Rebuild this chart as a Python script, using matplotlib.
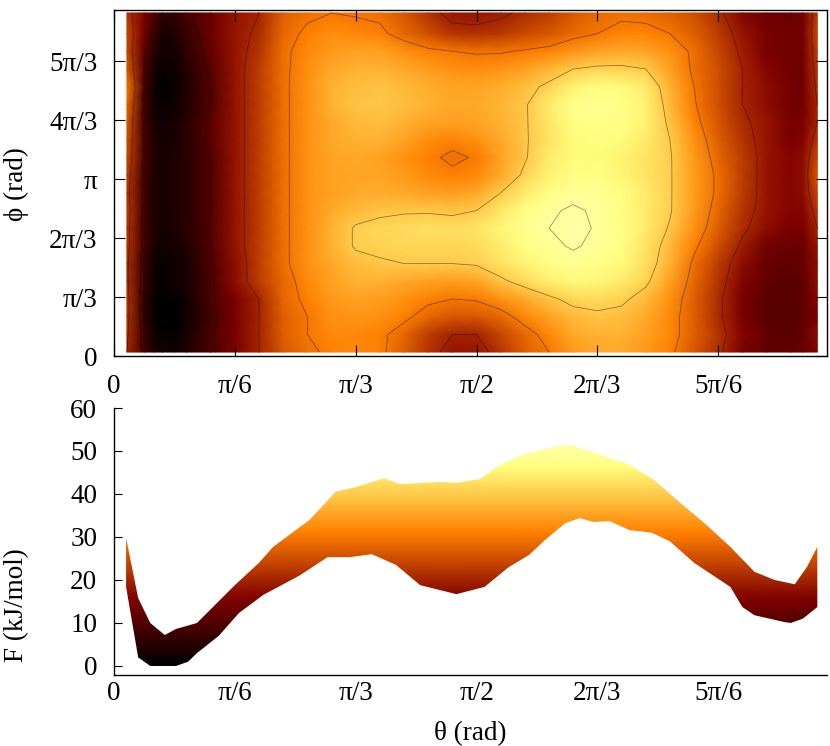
import matplotlib
matplotlib.use('Agg')
import matplotlib.pyplot as plt
import numpy as np

plt.rcParams['font.family'] = ['Liberation Serif', 'DejaVu Serif']
plt.rcParams['font.size'] = 19.5
plt.rcParams['axes.linewidth'] = 1.0

# top map, degrees
theta = [3.2, 7.5, 10, 12, 15, 18, 24, 30, 36, 42, 48, 54, 60, 66, 72, 78, 84, 90, 96, 102, 108,
         114, 120, 126, 132, 138, 144, 150, 156, 162, 168, 171, 174.6]
phi = [4, 22, 40, 58, 76, 94, 112, 130, 148, 166, 184, 202, 220, 238, 256, 274, 292, 310, 328, 349]
free_energy = [
    [20, 8, 4, 2, 2, 4, 9, 15, 20, 26, 29, 31, 32, 31, 27, 22, 18, 18, 22, 27, 30, 34, 36, 36, 34, 31, 26, 21, 15, 12, 12, 13, 16],
    [21, 7, 2, 1, 1, 3, 9, 15, 20, 27, 30, 32, 32, 31, 28, 23, 20, 20, 24, 28, 32, 36, 37, 37, 35, 32, 27, 22, 16, 12, 11, 12, 17],
    [22, 6, 1, 0, 0, 2, 8, 15, 20, 27, 30, 33, 33.5, 33, 31, 28, 26, 26, 28, 32, 35, 38, 39, 38.5, 36, 32, 27, 21, 15, 11, 10.5, 12, 15],
    [22, 6, 1, 0.5, 1, 2, 9, 15, 20, 28, 31, 34, 35, 34.5, 33, 31, 30, 30.5, 33, 36, 39, 41.5, 42, 41, 38, 33, 27, 21, 15, 11, 10.5, 12, 16],
    [21, 7, 2, 1, 2, 3, 9, 17, 23, 28, 32, 35, 37, 37, 36, 35, 34.5, 35.5, 39, 42, 44.5, 46, 45.5, 44, 41, 35, 28, 22, 16, 12, 11, 12, 17],
    [21, 7, 2, 1, 2, 3, 9, 17, 23, 29, 33, 36, 38.5, 39.5, 40, 40, 40, 40.5, 43, 45, 47, 48.5, 47.5, 46, 42.5, 37, 29, 23, 17, 12.5, 12, 13, 17],
    [22, 8, 3, 2, 3, 4, 10, 18, 23, 29, 33, 37, 40.5, 41, 41.5, 41.5, 41.5, 42, 44, 47, 49, 50.5, 49, 47, 43, 38, 31, 25, 19, 14, 13, 13, 18],
    [22, 8, 4, 3, 4, 5, 10, 18, 23, 29, 33, 37, 40.5, 41.5, 42, 42.5, 42.5, 43, 45.5, 48, 50, 51.5, 49.5, 47, 44, 39.5, 33, 27, 21, 17, 15, 15, 20],
    [23, 8, 4, 3, 4, 5, 10, 18, 23, 29, 33, 36, 38, 39, 39.5, 39.5, 39, 40, 43.5, 47, 49.5, 50.5, 49.5, 47, 44, 40.5, 34, 28, 22, 18, 16, 16, 22],
    [22, 8, 4, 3, 4, 5, 10, 18, 23, 29, 33, 35, 36, 36.5, 36, 35, 34.5, 36, 40, 44, 47, 49, 48.5, 46.5, 44, 40.5, 34.5, 29, 23, 18, 16, 17, 24],
    [23, 8, 4, 3, 4, 5, 10, 18, 23, 29, 33, 35, 35.5, 35.5, 34, 32, 31, 32, 36, 41, 45, 47, 47, 45.5, 43, 40.5, 34.5, 29, 23, 18, 16, 17, 26],
    [24, 9, 4, 3, 4, 5, 10, 18, 23, 29, 33, 35.5, 36, 35, 33, 31, 29, 30.5, 35, 39.5, 44, 46, 46, 45, 43, 40.5, 34, 28, 23, 18, 16, 17, 24],
    [25, 9, 4, 2.5, 3, 5, 11, 18, 23, 29, 33, 36, 37, 37, 35, 32.5, 31.5, 33, 36, 39.5, 43, 46, 46.5, 46, 44, 40, 33, 27, 22, 18, 15, 16, 22],
    [26, 8, 3, 2, 3, 5, 11, 18, 23, 29, 33, 36, 38, 38.5, 37, 35.5, 35, 35.5, 37, 39.5, 43.5, 47, 47.5, 47, 45, 39, 31.5, 26, 21, 18, 15, 15, 20],
    [28, 8, 2, 1, 2, 4, 10, 18, 23, 29, 33, 37, 39, 39.5, 38.5, 37, 36, 36, 37.5, 39.5, 44, 47.5, 48.5, 47.5, 45, 38, 30.5, 25, 20, 17, 14, 14, 20],
    [30, 9, 2, 0.5, 1, 4, 10, 18, 23, 29, 33, 37, 38.5, 39, 38, 36.5, 35.5, 35.5, 36.5, 38.5, 41, 45, 46.5, 46, 44, 37, 30, 25, 20, 17, 14, 14, 21],
    [26, 10, 3, 1, 2, 4, 11, 18, 23, 29, 32.5, 36, 37, 37, 36, 34.5, 33, 32.5, 33.5, 35, 37.5, 40, 41, 41, 40, 35, 29, 25, 20, 16, 14, 14, 22],
    [24, 11, 5, 2, 3, 6, 12, 18, 22, 29, 32, 34, 35, 35, 33, 31, 30, 29.5, 29.5, 30.5, 31.5, 33.5, 35, 36, 35.5, 33, 29, 24, 19, 15, 14, 14, 23],
    [24, 14, 7, 3, 4, 7, 13, 18, 21, 28, 31, 32.5, 32, 31, 28, 25, 22, 21.5, 22.5, 24.5, 26, 28.5, 30, 31.5, 31.5, 30, 27, 23, 18, 15, 14, 14, 24],
    [22, 15, 10, 6, 6, 9, 13, 18, 20, 27, 29, 30, 29.5, 29, 26, 22, 18, 18, 19, 21, 23, 26, 28, 29, 28.5, 27, 25, 21, 16, 13, 13, 14, 23],
]
levels = [10, 20, 30, 40, 50]

# bottom band, upper and lower edge
theta_high = [3, 6, 9, 12.6, 15.4, 20.6, 30, 36, 39.5, 48.6, 55, 60, 67, 71, 81, 85, 91, 94.5, 98, 101,
              107, 112.7, 118, 128, 134, 140.5, 146.6, 153, 159, 164, 169, 172, 174.6]
F_high = [29.8, 15.8, 10, 7.2, 8.6, 10, 18.8, 24, 27.7, 34, 40.5, 41.6, 43.7, 42.3, 42.8, 42.6, 43.5, 46, 47.7, 49,
          50.5, 51.6, 50, 46.8, 43.3, 38, 33.2, 27.7, 21.9, 20, 19, 23, 27.7]
theta_low = [3, 6, 9, 15.4, 18.4, 20.6, 26, 31, 37, 46, 53, 58.5, 64, 70, 76, 85, 92, 98, 103, 107, 112,
             115.6, 119, 123, 128, 133.5, 138, 144, 153, 156, 159, 166.5, 168, 171, 174.6]
F_low = [18.4, 2, 0, 0, 1, 3, 7, 12.3, 16.5, 21, 25.3, 25.3, 26, 23.5, 18.8, 16.7, 18.4, 23, 25.8, 29.3, 33.2,
         34.4, 33.5, 33.7, 31.6, 31, 29, 24, 18.4, 13.7, 11.8, 10.2, 10, 11, 13.7]

tick_pos = [0, 30, 60, 90, 120, 150]
theta_labels = ['0', 'π/6', 'π/3', 'π/2', '2π/3', '5π/6']
phi_pos = [0, 60, 120, 180, 240, 300]
phi_labels = ['0', 'π/3', '2π/3', 'π', '4π/3', '5π/3']
F_ticks = [0, 10, 20, 30, 40, 50, 60]

W, H = 830, 746
fig = plt.figure(figsize=(W / 100, H / 100), dpi=100)

ax1 = fig.add_axes([114 / W, 1 - 356 / H, 713 / W, 346 / H])
T, P = np.meshgrid(theta, phi)
Z = np.array(free_energy)
ax1.pcolormesh(T, P, Z, shading='gouraud', cmap='afmhot', vmin=0, vmax=62)
ax1.contour(T, P, Z, levels=levels, colors='k', linewidths=0.5, alpha=0.5)
ax1.set_xlim(0, 177)
ax1.set_ylim(0, 352)
ax1.set_xticks(tick_pos, theta_labels)
ax1.set_yticks(phi_pos, phi_labels)
ax1.tick_params(axis='x', direction='in', top=True, length=8, width=0.8, pad=13)
ax1.tick_params(axis='y', direction='in', right=True, length=8, width=0.8, pad=12)
ax1.set_ylabel('ϕ (rad)')
ax1.yaxis.set_label_coords((29 - 114) / 713, (356 - 184) / 346)

ax2 = fig.add_axes([114 / W, 1 - 675 / H, 713 / W, 267 / H])
ramp = np.linspace(0, 60, 256).reshape(-1, 1)
im = ax2.imshow(ramp, origin='lower', extent=[0, 177, 0, 60], aspect='auto',
                cmap='afmhot', vmin=0, vmax=62)
band = ax2.fill(theta_high + theta_low[::-1], F_high + F_low[::-1], facecolor='none', edgecolor='none')[0]
im.set_clip_path(band)
ax2.set_xlim(0, 177)
ax2.set_ylim(-2.1, 60)
ax2.set_xticks(tick_pos, theta_labels)
ax2.set_yticks(F_ticks)
ax2.spines['top'].set_visible(False)
ax2.spines['right'].set_visible(False)
ax2.tick_params(axis='y', direction='in', length=6, width=0.8, pad=12)
ax2.tick_params(axis='x', length=0, pad=4)
ax2.set_xlabel('θ (rad)')
ax2.xaxis.set_label_coords(0.5, (675 - 734) / 267)
ax2.xaxis.label.set_verticalalignment('center')
ax2.set_ylabel('F (kJ/mol)')
ax2.yaxis.set_label_coords((29 - 114) / 713, (675 - 605) / 267)

plt.savefig('out.png')
